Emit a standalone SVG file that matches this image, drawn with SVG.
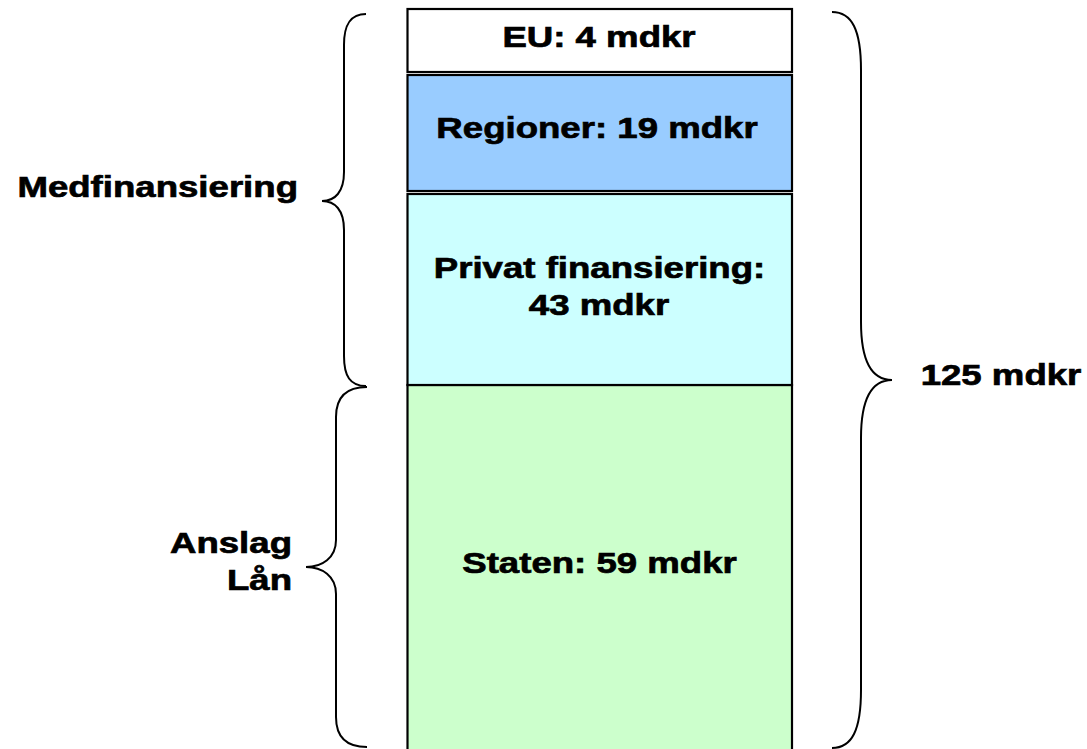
<svg xmlns="http://www.w3.org/2000/svg" width="1087" height="749" viewBox="0 0 1087 749">
<style>
.box{stroke:#000;stroke-width:2.2}
.t{font-family:"Liberation Sans",Arial,sans-serif;font-weight:bold;font-size:30px;fill:#000;stroke:#000;stroke-width:0.7}
.m{text-anchor:middle}
.e{text-anchor:end}
.brace{fill:none;stroke:#000;stroke-width:2}
</style>
<rect width="1087" height="749" fill="#fff"/>
<g id="staten">
<rect class="box" x="407.5" y="385" width="384.5" height="380" fill="#CCFFCC"/>
<text class="t m" transform="translate(599.5,573) scale(1.22,1)">Staten: 59 mdkr</text>
</g>
<g id="privat">
<rect class="box" x="407.5" y="194" width="384.5" height="191" fill="#CCFFFF"/>
<text class="t m" transform="translate(599.5,278) scale(1.22,1)">Privat finansiering:</text>
<text class="t m" transform="translate(599,315) scale(1.22,1)">43 mdkr</text>
</g>
<g id="regioner">
<rect class="box" x="407.5" y="75" width="384.5" height="116" fill="#99CCFF"/>
<text class="t m" transform="translate(597,138) scale(1.22,1)">Regioner: 19 mdkr</text>
</g>
<g id="eu">
<rect class="box" x="407.5" y="9" width="384.5" height="63" fill="#FFFFFF"/>
<text class="t m" transform="translate(599,47) scale(1.22,1)">EU: 4 mdkr</text>
</g>
<g id="connectors">
<path class="brace" d="M366,14 C350,14 344,25 344,45 L344,172 C344,192 335,201 322,201 C335,201 344,210 344,230 L344,356 C344,376 350,386 366,386"/>
<path class="brace" d="M367,387 C346,387 336,397 336,417 L336,540 C336,558 322,567 306,567 C322,567 336,576 336,594 L336,717 C336,737 346,747 367,747"/>
<path class="brace" d="M832,12 C852,12 861,30 861,70 L861,322 C861,362 872,380 892,380 C872,380 861,398 861,438 L861,690 C861,730 852,748 832,748"/>
</g>
<g id="medfinansiering">
<text class="t e" transform="translate(298,197) scale(1.22,1)">Medfinansiering</text>
</g>
<g id="anslag">
<text class="t e" transform="translate(292,553) scale(1.22,1)">Anslag</text>
<text class="t e" transform="translate(292,590) scale(1.22,1)">Lån</text>
</g>
<g id="total">
<text class="t m" transform="translate(1001,385) scale(1.22,1)">125 mdkr</text>
</g>
</svg>
